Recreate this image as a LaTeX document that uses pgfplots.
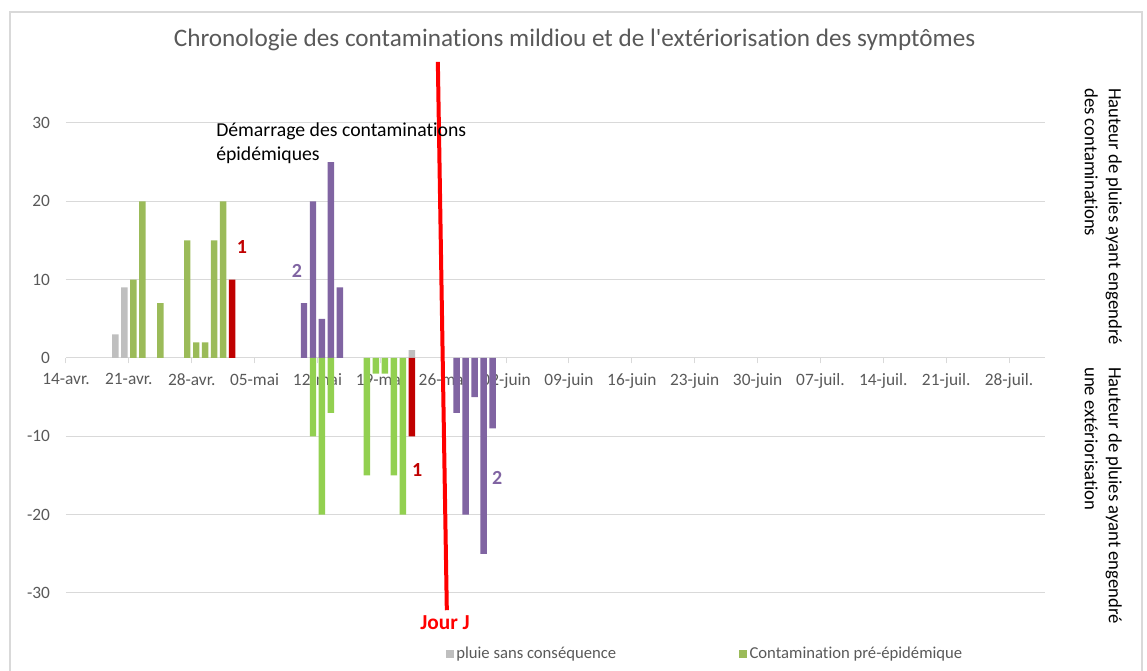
\documentclass[border=0pt]{standalone}
\usepackage{pgfplots}
\pgfplotsset{compat=1.18}
\usepackage{fontspec}
\setmainfont{Carlito}[Ligatures=TeX, RawFeature={-liga;-clig;-calt;-dlig}]
\newfontfamily\carlitoplain{Carlito}[RawFeature={-liga;-clig;-calt;-dlig}]
\definecolor{grisbar}{HTML}{BFBFBF}
\definecolor{vertpre}{HTML}{9BBB59}
\definecolor{vertneg}{HTML}{92D050}
\definecolor{rougebar}{HTML}{C00000}
\definecolor{violet}{HTML}{8064A2}
\definecolor{lignerouge}{HTML}{FF0000}
\definecolor{grille}{HTML}{D9D9D9}
\definecolor{tickgray}{HTML}{595959}
\definecolor{titlegray}{HTML}{595959}
\begin{document}
\begin{tikzpicture}
\draw[grille, line width=1.3pt] (7.5pt,0pt) -- (7.5pt,494.25pt) -- (856.5pt,494.25pt) -- (856.5pt,0pt);
\node[font=\carlitoplain\fontsize{18.9}{22}\selectfont, text=titlegray] at (431pt,473.25pt) {Chronologie des contaminations mildiou et de l'extériorisation des symptômes};
\node[rotate=-90, anchor=north west, align=left, inner sep=0pt, font=\fontsize{14}{18}\selectfont, text=black] at (841.5pt,437.25pt) {Hauteur de pluies ayant engendré\\des contaminations};
\node[rotate=-90, anchor=north west, align=left, inner sep=0pt, font=\fontsize{14}{18}\selectfont, text=black] at (841.5pt,228pt) {Hauteur de pluies ayant engendré\\une extériorisation};
\begin{axis}[
  at={(49.5pt,58.5pt)}, anchor=south west,
  scale only axis, width=734.25pt, height=352.5pt,
  xmin=0, xmax=109, ymin=-30, ymax=30,
  clip=false,
  axis x line=middle, axis y line=left,
  every inner x axis line/.append style={-},
  x axis line style={-, draw=grille, line width=0.75pt},
  y axis line style={draw=none},
  hide obscured x ticks=false, hide obscured y ticks=false,
  xtick={0,7,...,105},
  xticklabels={14-avr.,21-avr.,28-avr.,05-mai,12-mai,19-mai,26-mai,02-juin,09-juin,16-juin,23-juin,30-juin,07-juil.,14-juil.,21-juil.,28-juil.},
  ytick={-30,-20,...,30},
  tick align=outside,
  major tick length=4pt,
  xtick style={draw=grille, line width=0.75pt},
  ytick style={draw=none},
  ymajorgrids, grid style={draw=grille, line width=0.75pt},
  /pgf/number format/assume math mode=true,
  xticklabel style={font=\fontsize{13}{15}\selectfont, text=tickgray, yshift=-4pt},
  yticklabel style={font=\fontsize{13}{15}\selectfont, text=tickgray, xshift=-4.5pt},
  legend style={at={(0.653,-0.13)}, anchor=center, draw=none, fill=none,
    legend columns=2, font=\fontsize{12.5}{14}\selectfont, text=tickgray,
    /tikz/every even column/.append style={column sep=90pt}},
]
\addplot[ybar, bar width=0.72, bar shift=0pt, draw=none, fill=grisbar,
  legend image code/.code={\fill[grisbar] (0pt,-3pt) rectangle (6pt,3pt);}]
  coordinates {(5.5,3) (6.5,9) (38.5,1)};
\addplot[ybar, bar width=0.72, bar shift=0pt, draw=none, fill=vertpre,
  legend image code/.code={\fill[vertpre] (0pt,-3pt) rectangle (6pt,3pt);}]
  coordinates {(7.5,10) (8.5,20) (10.5,7) (13.5,15) (14.5,2) (15.5,2) (16.5,15) (17.5,20)};
\addplot[ybar, bar width=0.72, bar shift=0pt, draw=none, fill=rougebar]
  coordinates {(18.5,10) (38.5,-10)};
\addplot[ybar, bar width=0.72, bar shift=0pt, draw=none, fill=violet]
  coordinates {(26.5,7) (27.5,20) (28.5,5) (29.5,25) (30.5,9)};
\addplot[ybar, bar width=0.72, bar shift=0pt, draw=none, fill=vertneg]
  coordinates {(27.5,-10) (28.5,-20) (29.5,-7) (33.5,-15) (34.5,-2) (35.5,-2) (36.5,-15) (37.5,-20)};
\addplot[ybar, bar width=0.72, bar shift=0pt, draw=none, fill=violet]
  coordinates {(43.5,-7) (44.5,-20) (45.5,-5) (46.5,-25) (47.5,-9)};
\addplot[color=lignerouge, line width=3pt, mark=none]
  coordinates {(41.4,37.8) (42.4,-32.2)};
\legend{pluie sans conséquence, Contamination pré-épidémique}
\node[anchor=west, align=left, inner sep=0pt, font=\fontsize{14.8}{17.5}\selectfont, text=black] at (axis cs:16.7,27.4) {Démarrage des contaminations\\épidémiques};
\node[font=\bfseries\fontsize{15}{17}\selectfont, text=rougebar] at (axis cs:19.6,14.2) {1};
\node[font=\bfseries\fontsize{15}{17}\selectfont, text=violet] at (axis cs:25.7,11.1) {2};
\node[font=\bfseries\fontsize{15}{17}\selectfont, text=rougebar] at (axis cs:39.1,-14.3) {1};
\node[font=\bfseries\fontsize{15}{17}\selectfont, text=violet] at (axis cs:48.0,-15.3) {2};
\node[font=\bfseries\fontsize{16}{18}\selectfont, text=lignerouge] at (axis cs:42.2,-33.8) {Jour J};
\end{axis}
\pgfresetboundingbox
\useasboundingbox (0pt,0pt) rectangle (860.25pt,503.25pt);
\end{tikzpicture}
\end{document}
